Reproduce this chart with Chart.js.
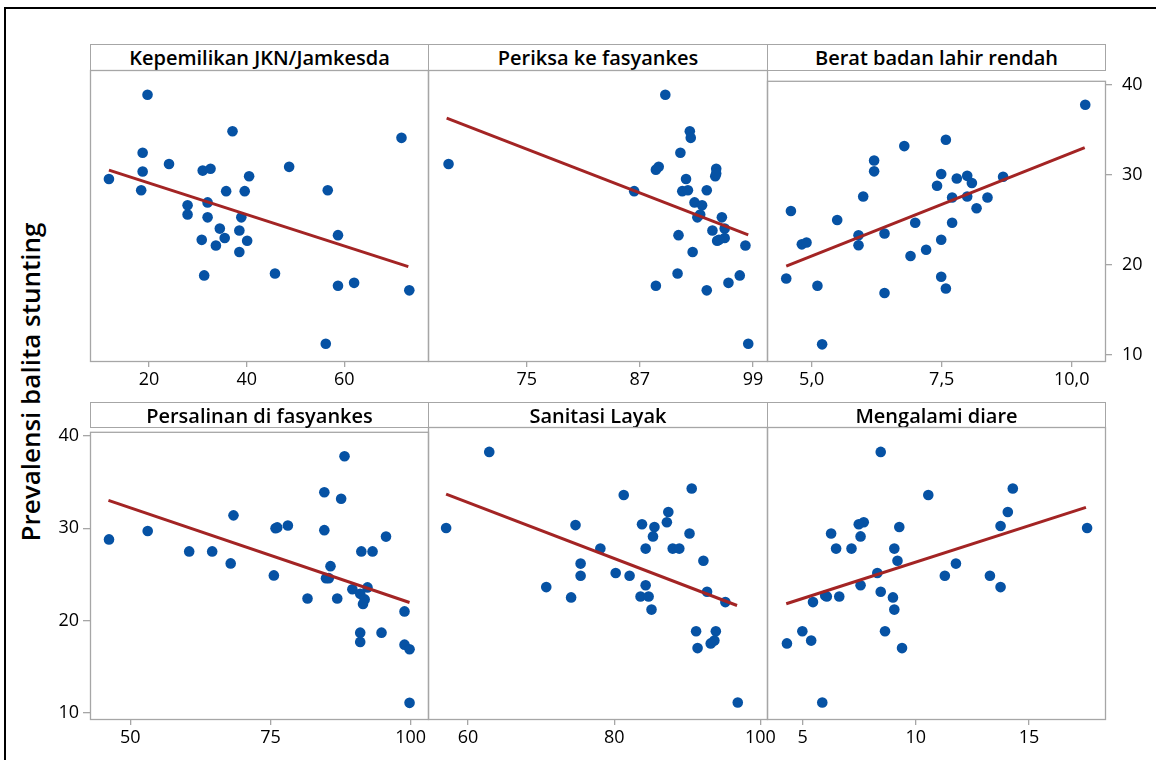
<!DOCTYPE html>
<html>
<head>
<meta charset="utf-8">
<script src="https://cdn.jsdelivr.net/npm/chart.js@4.4.1/dist/chart.umd.min.js"></script>
<style>
  body { margin: 0; background: #fff; width: 1156px; height: 760px; overflow: hidden; position: relative; font-family: "Open Sans", sans-serif; }
  .frame { position: absolute; left: 4px; top: 7px; width: 1200px; height: 800px; border-left: 2px solid #000; border-top: 2px solid #000; }
  .strip { position: absolute; box-sizing: border-box; border: 1px solid #a6a6a6; background: #fff; display: flex; align-items: center; justify-content: center; font-size: 20px; font-weight: 600; color: #000; }
  .ytitle { position: absolute; left: 30px; top: 382px; transform: translate(-50%, -50%) rotate(-90deg); font-size: 26px; font-weight: 600; white-space: nowrap; color: #000; }
  canvas { position: absolute; }
</style>
</head>
<body>
<div class="frame"></div>
<div class="ytitle">Prevalensi balita stunting</div>
<script>
// data (prevalensi stunting vs. tiap faktor, per provinsi)
const titles = ['Kepemilikan JKN/Jamkesda', 'Periksa ke fasyankes', 'Berat badan lahir rendah',
                'Persalinan di fasyankes', 'Sanitasi Layak', 'Mengalami diare'];
const yTicks = [10, 20, 30, 40];

const jknX = [19.7, 37.1, 71.7, 18.7, 24.1, 48.7, 18.7, 31.0, 32.6, 40.5, 11.8, 18.4, 35.8, 39.6, 56.6, 27.9, 32.0, 27.9, 32.0, 38.9, 34.5, 38.5, 58.7, 30.8, 35.5, 40.1, 33.7, 38.5, 31.3, 45.8, 58.7, 62.0, 73.3, 56.2];
const jknY = [37.8, 33.9, 33.2, 31.6, 30.4, 30.1, 29.6, 29.7, 29.9, 29.1, 28.8, 27.6, 27.5, 27.5, 27.6, 26.0, 26.3, 25.0, 24.7, 24.7, 23.5, 23.3, 22.8, 22.3, 22.5, 22.2, 21.7, 21.0, 18.5, 18.7, 17.4, 17.7, 16.9, 11.2];
const jknFitX = [11.8, 73.1];
const jknFitY = [29.75, 19.43];
const jknTicks = [20, 40, 60];

const periksaX = [89.7, 92.3, 92.4, 91.3, 66.7, 89.0, 88.7, 95.1, 95.0, 91.9, 86.4, 91.5, 92.1, 94.1, 92.8, 93.6, 93.4, 93.1, 95.7, 96.0, 94.7, 91.1, 95.2, 96.0, 98.2, 92.6, 91.0, 97.6, 88.7, 96.4, 94.1, 98.5, 95.1, 95.4];
const periksaY = [37.8, 33.9, 33.2, 31.6, 30.4, 30.1, 29.8, 29.9, 29.1, 28.8, 27.5, 27.5, 27.6, 27.6, 26.3, 26.0, 25.0, 24.7, 24.7, 23.5, 23.3, 22.8, 22.2, 22.5, 21.7, 21.0, 18.7, 18.5, 17.4, 17.7, 16.9, 11.2, 29.4, 22.3];
const periksaFitX = [66.5, 98.5];
const periksaFitY = [35.3, 22.82];
const periksaTicks = [75, 87, 99];

const bblrX = [10.26, 7.58, 6.78, 6.2, 6.2, 7.49, 7.79, 7.99, 8.08, 8.68, 7.41, 5.99, 7.70, 7.99, 8.38, 4.6, 8.17, 5.49, 6.99, 7.70, 5.9, 6.4, 7.49, 4.81, 4.9, 5.9, 7.2, 6.9, 4.51, 7.49, 5.11, 7.58, 6.4, 5.2];
const bblrY = [37.8, 33.9, 33.2, 31.6, 30.4, 30.1, 29.6, 29.9, 29.1, 29.8, 28.8, 27.6, 27.5, 27.6, 27.5, 26.0, 26.3, 25.0, 24.7, 24.7, 23.3, 23.5, 22.8, 22.3, 22.5, 22.2, 21.7, 21.0, 18.5, 18.7, 17.7, 17.4, 16.9, 11.2];
const bblrFitX = [4.51, 10.25];
const bblrFitY = [19.89, 33.04];
const bblrTicks = [5, 7.5, 10];

const persalinanX = [88.2, 84.6, 87.6, 68.4, 75.9, 76.2, 78.1, 84.6, 53.1, 95.6, 46.2, 60.5, 64.6, 91.2, 93.2, 67.9, 85.7, 75.6, 84.9, 85.4, 92.3, 89.6, 91.0, 81.6, 86.9, 91.8, 91.5, 98.9, 91.0, 94.8, 91.0, 98.9, 99.8, 99.8];
const persalinanY = [37.8, 33.9, 33.2, 31.4, 30.0, 30.1, 30.3, 29.8, 29.7, 29.1, 28.8, 27.5, 27.5, 27.5, 27.5, 26.2, 25.9, 24.9, 24.6, 24.6, 23.6, 23.4, 22.9, 22.4, 22.4, 22.3, 21.8, 21.0, 18.7, 18.7, 17.7, 17.4, 16.9, 11.1];
const persalinanFitX = [46.1, 99.8];
const persalinanFitY = [33.03, 21.97];
const persalinanTicks = [50, 75, 100];

const sanitasiX = [62.9, 90.6, 81.3, 87.4, 87.2, 74.7, 83.8, 85.5, 57.0, 90.3, 85.3, 78.1, 84.3, 88.0, 88.9, 92.2, 75.4, 80.2, 75.4, 82.1, 84.3, 70.7, 92.7, 74.1, 83.6, 84.7, 95.2, 85.1, 91.2, 93.9, 93.7, 93.2, 91.4, 96.9];
const sanitasiY = [37.8, 33.9, 33.2, 31.4, 30.3, 30.0, 30.1, 29.8, 29.7, 29.1, 28.8, 27.5, 27.5, 27.5, 27.5, 26.2, 25.9, 24.9, 24.6, 24.6, 23.6, 23.4, 22.9, 22.3, 22.4, 22.4, 21.8, 21.0, 18.7, 18.7, 17.7, 17.4, 16.9, 11.1];
const sanitasiFitX = [57.0, 96.8];
const sanitasiFitY = [33.31, 21.44];
const sanitasiTicks = [60, 80, 100];

const diareX = [8.45, 14.28, 10.55, 14.06, 7.7, 7.48, 13.74, 9.27, 17.56, 6.26, 7.56, 6.48, 7.16, 9.05, 9.19, 11.77, 8.3, 11.28, 13.27, 7.56, 13.74, 8.45, 6.07, 6.62, 8.99, 5.46, 9.05, 4.99, 8.64, 5.38, 4.31, 9.39, 5.87, 6.0];
const diareY = [37.8, 33.9, 33.2, 31.4, 30.3, 30.1, 29.9, 29.8, 29.7, 29.1, 28.8, 27.5, 27.5, 27.5, 26.2, 25.9, 24.9, 24.6, 24.6, 23.6, 23.4, 22.9, 22.4, 22.4, 22.3, 21.8, 21.0, 18.7, 18.7, 17.7, 17.4, 16.9, 11.1, 22.5];
const diareFitX = [4.28, 17.51];
const diareFitY = [21.62, 31.89];
const diareTicks = [5, 10, 15];

// tata letak panel
const colLeft = [90, 428, 767];
const colRight = [428, 767, 1105];
const stripTop = [44, 402];
const plotTop = [70, 427];
const plotBottom = [361, 719];
const padX = 70;
const axisH = 45;
const yMin = 9.35, yMax = 40.45;

const panels = [
  { xs: jknX, ys: jknY, fx: jknFitX, fy: jknFitY, ticks: jknTicks, min: 7.92, max: 77.13, dec: 0, yAxis: null },
  { xs: periksaX, ys: periksaY, fx: periksaFitX, fy: periksaFitY, ticks: periksaTicks, min: 64.52, max: 100.49, dec: 0, yAxis: null },
  { xs: bblrX, ys: bblrY, fx: bblrFitX, fy: bblrFitY, ticks: bblrTicks, min: 4.14, max: 10.64, dec: 1, yAxis: 'right' },
  { xs: persalinanX, ys: persalinanY, fx: persalinanFitX, fy: persalinanFitY, ticks: persalinanTicks, min: 42.81, max: 103.09, dec: 0, yAxis: 'left' },
  { xs: sanitasiX, ys: sanitasiY, fx: sanitasiFitX, fy: sanitasiFitY, ticks: sanitasiTicks, min: 54.52, max: 100.9, dec: 0, yAxis: null },
  { xs: diareX, ys: diareY, fx: diareFitX, fy: diareFitY, ticks: diareTicks, min: 3.43, max: 18.35, dec: 0, yAxis: null }
];

const panelFrame = {
  id: 'panelFrame',
  beforeDatasetsDraw(chart) {
    const a = chart.chartArea;
    const ctx = chart.ctx;
    ctx.save();
    ctx.strokeStyle = '#a6a6a6';
    ctx.lineWidth = 1.3;
    ctx.strokeRect(a.left + 0.5, a.top + 0.5, a.right - a.left, a.bottom - a.top);
    ctx.restore();
  }
};

const tickFont = { family: 'Open Sans', size: 18, weight: 500 };

panels.forEach((p, i) => {
  const row = Math.floor(i / 3), col = i % 3;
  const w = colRight[col] - colLeft[col];
  const h = plotBottom[row] - plotTop[row];

  const strip = document.createElement('div');
  strip.className = 'strip';
  strip.style.left = colLeft[col] + 'px';
  strip.style.top = stripTop[row] + 'px';
  strip.style.width = (w + 1) + 'px';
  strip.style.height = (plotTop[row] - stripTop[row] + 1) + 'px';
  strip.textContent = titles[i];
  document.body.appendChild(strip);

  const canvas = document.createElement('canvas');
  canvas.width = w + 2 * padX;
  canvas.height = h + 10 + axisH;
  canvas.style.left = (colLeft[col] - padX) + 'px';
  canvas.style.top = (plotTop[row] - 10) + 'px';
  document.body.appendChild(canvas);

  new Chart(canvas.getContext('2d'), {
    type: 'scatter',
    data: {
      datasets: [
        {
          type: 'line',
          data: p.fx.map((x, k) => ({ x: x, y: p.fy[k] })),
          borderColor: '#a32424',
          borderWidth: 3,
          pointRadius: 0,
          fill: false
        },
        {
          data: p.xs.map((x, k) => ({ x: x, y: p.ys[k] })),
          backgroundColor: '#0652a4',
          borderWidth: 0,
          pointRadius: 5.3
        }
      ]
    },
    options: {
      responsive: false,
      animation: false,
      layout: {
        padding: {
          top: 10, bottom: 0,
          left: p.yAxis === 'left' ? 0 : padX,
          right: p.yAxis === 'right' ? 0 : padX
        }
      },
      plugins: { legend: { display: false }, tooltip: { enabled: false } },
      scales: {
        x: {
          type: 'linear',
          min: p.min, max: p.max,
          afterBuildTicks: (s) => { s.ticks = p.ticks.map(v => ({ value: v })); },
          afterFit: (s) => { s.height = axisH; },
          border: { display: false },
          grid: { drawOnChartArea: false, drawTicks: true, tickLength: 6, color: '#a6a6a6', lineWidth: 1.3 },
          ticks: {
            color: '#000', font: tickFont, padding: 2, maxRotation: 0,
            callback: (v) => p.dec ? v.toFixed(1).replace('.', ',') : String(v)
          }
        },
        y: {
          type: 'linear',
          display: p.yAxis !== null,
          position: p.yAxis || 'left',
          min: yMin, max: yMax,
          afterBuildTicks: (s) => { s.ticks = yTicks.map(v => ({ value: v })); },
          afterFit: (s) => { s.width = p.yAxis ? padX : 0; },
          border: { display: false },
          grid: { drawOnChartArea: false, drawTicks: true, tickLength: 7, color: '#a6a6a6', lineWidth: 1.3 },
          ticks: { color: '#000', font: tickFont, padding: p.yAxis === 'right' ? 10 : 4 }
        }
      }
    },
    plugins: [panelFrame]
  });
});
</script>
</body>
</html>
